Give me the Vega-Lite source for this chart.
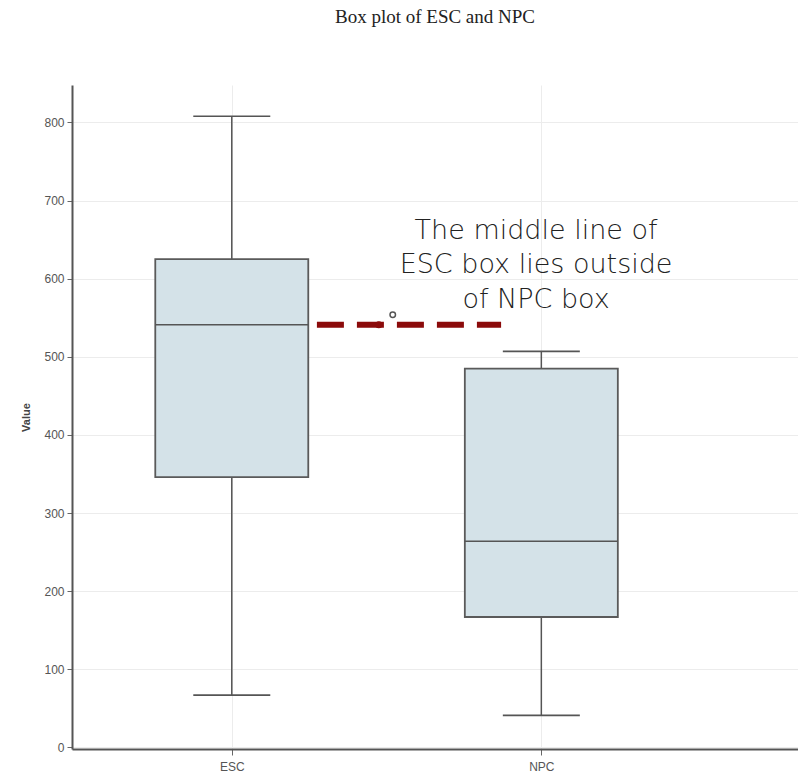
{
  "$schema": "https://vega.github.io/schema/vega-lite/v6.json",
  "width": 726,
  "height": 664,
  "autosize": {"type": "none"},
  "padding": {"left": 72, "top": 85, "right": 0, "bottom": 29},
  "background": "white",
  "config": {"view": {"stroke": null}},
  "title": {
    "text": "Box plot of ESC and NPC",
    "font": "Liberation Serif",
    "fontSize": 19,
    "fontWeight": "normal",
    "color": "#222",
    "anchor": "middle",
    "frame": "group",
    "offset": 58
  },
  "datasets": {
    "boxes": [
      {"group": "ESC", "pos": 1, "lower": 67, "q1": 346, "median": 541, "q3": 625, "upper": 808},
      {"group": "NPC", "pos": 2, "lower": 41, "q1": 167, "median": 264, "q3": 485, "upper": 507}
    ],
    "line": [{"x1": 1.275, "x2": 1.87, "value": 541}],
    "dot": [{"x": 1.475, "value": 541}],
    "circle": [{"x": 1.52, "value": 554}],
    "note": [{"x": 1.983, "value": 651, "label": "The middle line of\nESC box lies outside\nof NPC box"}]
  },
  "encoding": {
    "x": {"type": "quantitative"},
    "y": {"type": "quantitative"}
  },
  "layer": [
    {
      "data": {"name": "boxes"},
      "mark": {"type": "rule", "color": "#555", "strokeWidth": 1.5},
      "encoding": {
        "x": {
          "field": "pos", "type": "quantitative",
          "scale": {"domain": [0.5, 2.813], "nice": false, "zero": false},
          "axis": {
            "values": [1, 2],
            "labelExpr": "datum.value == 1 ? 'ESC' : 'NPC'",
            "title": null,
            "grid": true,
            "gridColor": "#ececec",
            "domainColor": "#555",
            "domainWidth": 2,
            "tickColor": "#666",
            "tickSize": 6,
            "labelFont": "Liberation Sans",
            "labelFontSize": 12,
            "labelColor": "#555",
            "labelPadding": 6
          }
        },
        "y": {
          "field": "lower", "type": "quantitative",
          "scale": {"domain": [-2, 848], "nice": false, "zero": false},
          "axis": {
            "values": [0, 100, 200, 300, 400, 500, 600, 700, 800],
            "title": "Value",
            "titleFont": "Liberation Sans",
            "titleFontSize": 11,
            "titleFontWeight": "bold",
            "titleColor": "#444",
            "titlePadding": 12,
            "grid": true,
            "gridColor": "#ececec",
            "domainColor": "#555",
            "domainWidth": 2,
            "tickColor": "#666",
            "tickSize": 5,
            "labelFont": "Liberation Sans",
            "labelFontSize": 12,
            "labelColor": "#555",
            "labelPadding": 3
          }
        },
        "y2": {"field": "q1"}
      }
    },
    {
      "data": {"name": "boxes"},
      "mark": {"type": "rule", "color": "#555", "strokeWidth": 1.5},
      "encoding": {
        "x": {"field": "pos", "type": "quantitative"},
        "y": {"field": "q3", "type": "quantitative"},
        "y2": {"field": "upper"}
      }
    },
    {
      "data": {"name": "boxes"},
      "mark": {"type": "bar", "width": 153, "fill": "#d4e2e8", "stroke": "#5a5a5a", "strokeWidth": 1.8},
      "encoding": {
        "x": {"field": "pos", "type": "quantitative"},
        "y": {"field": "q1", "type": "quantitative"},
        "y2": {"field": "q3"}
      }
    },
    {
      "data": {"name": "boxes"},
      "mark": {"type": "tick", "orient": "horizontal", "size": 153, "thickness": 1.6, "color": "#555", "opacity": 1},
      "encoding": {
        "x": {"field": "pos", "type": "quantitative"},
        "y": {"field": "median", "type": "quantitative"}
      }
    },
    {
      "data": {"name": "boxes"},
      "mark": {"type": "tick", "orient": "horizontal", "size": 77, "thickness": 1.6, "color": "#555", "opacity": 1},
      "encoding": {
        "x": {"field": "pos", "type": "quantitative"},
        "y": {"field": "lower", "type": "quantitative"}
      }
    },
    {
      "data": {"name": "boxes"},
      "mark": {"type": "tick", "orient": "horizontal", "size": 77, "thickness": 1.6, "color": "#555", "opacity": 1},
      "encoding": {
        "x": {"field": "pos", "type": "quantitative"},
        "y": {"field": "upper", "type": "quantitative"}
      }
    },
    {
      "data": {"name": "line"},
      "mark": {"type": "rule", "color": "#8b0a0a", "strokeWidth": 6, "strokeDash": [27, 13]},
      "encoding": {
        "x": {"field": "x1", "type": "quantitative"},
        "x2": {"field": "x2"},
        "y": {"field": "value", "type": "quantitative"}
      }
    },
    {
      "data": {"name": "dot"},
      "mark": {"type": "point", "filled": true, "size": 50, "color": "#8b0a0a", "opacity": 1},
      "encoding": {
        "x": {"field": "x", "type": "quantitative"},
        "y": {"field": "value", "type": "quantitative"}
      }
    },
    {
      "data": {"name": "circle"},
      "mark": {"type": "point", "filled": false, "size": 30, "color": "#555", "strokeWidth": 1.5, "opacity": 1},
      "encoding": {
        "x": {"field": "x", "type": "quantitative"},
        "y": {"field": "value", "type": "quantitative"}
      }
    },
    {
      "data": {"name": "note"},
      "mark": {"type": "text", "font": "DejaVu Sans", "fontWeight": 200, "fontSize": 27, "color": "#222", "align": "center", "baseline": "alphabetic", "lineBreak": "\n", "lineHeight": 34.5},
      "encoding": {
        "x": {"field": "x", "type": "quantitative"},
        "y": {"field": "value", "type": "quantitative"},
        "text": {"field": "label"}
      }
    }
  ]
}
